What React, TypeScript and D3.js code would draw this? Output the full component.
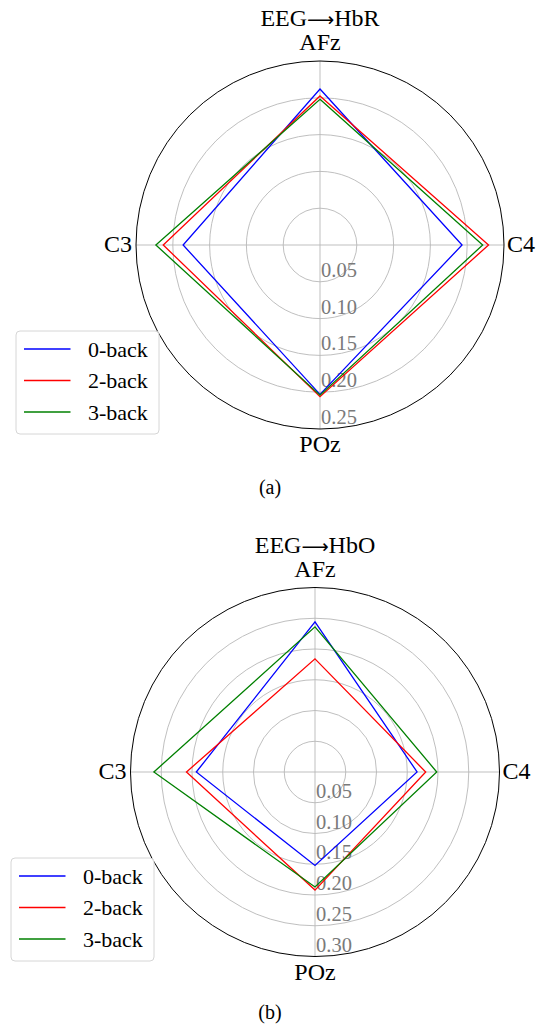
import React from 'react';
import { scaleLinear, lineRadial, curveLinearClosed } from 'd3';

// channel order goes clockwise from the top
const channels = ['AFz', 'C4', 'POz', 'C3'];
const seriesNames = ['0-back', '2-back', '3-back'];
const seriesColors = ['#0000ff', '#ff0000', '#008000'];

// EEG -> HbR
const hbrZeroBack = [0.212, 0.193, 0.203, 0.186];
const hbrTwoBack = [0.2025, 0.229, 0.206, 0.213];
const hbrThreeBack = [0.198, 0.221, 0.204, 0.223];
const hbrTicks = [0.05, 0.1, 0.15, 0.2, 0.25];

// EEG -> HbO
const hboZeroBack = [0.244, 0.166, 0.152, 0.193];
const hboTwoBack = [0.184, 0.18, 0.192, 0.209];
const hboThreeBack = [0.236, 0.198, 0.187, 0.262];
const hboTicks = [0.05, 0.1, 0.15, 0.2, 0.25, 0.3];

const font = '"Liberation Serif", "Times New Roman", serif';

type PanelProps = {
  cx: number;
  cy: number;
  radius: number;
  title: [string, string];
  caption: string;
  captionY: number;
  series: number[][];
  ticks: number[];
  legendX: number;
  legendY: number;
};

function RadarPanel({ cx, cy, radius, title, caption, captionY, series, ticks, legendX, legendY }: PanelProps) {
  const rMax = ticks[ticks.length - 1];
  const r = scaleLinear().domain([0, rMax]).range([0, radius]);
  const angle = (i: number) => (i / channels.length) * 2 * Math.PI;

  const path = lineRadial<number>()
    .angle((d, i) => angle(i))
    .radius(d => r(d))
    .curve(curveLinearClosed);

  return (
    <g>
      <g transform={`translate(${cx},${cy})`}>
        {/* grid rings */}
        {ticks.slice(0, -1).map(t => (
          <circle key={t} r={r(t)} fill="none" stroke="#b8b8b8" strokeWidth={0.9} />
        ))}
        {/* spokes */}
        {channels.map((c, i) => (
          <line
            key={c}
            x1={0}
            y1={0}
            x2={Math.sin(angle(i)) * radius}
            y2={-Math.cos(angle(i)) * radius}
            stroke="#b8b8b8"
            strokeWidth={0.9}
          />
        ))}
        {/* tick labels */}
        {ticks.map(t => (
          <text
            key={'t' + t}
            x={1}
            y={r(t) - 12}
            dominantBaseline="central"
            fontFamily={font}
            fontSize={20.5}
            fill="#7a7a7a"
          >
            {t.toFixed(2)}
          </text>
        ))}
        {/* data */}
        {series.map((s, k) => (
          <path key={k} d={path(s) || ''} fill="none" stroke={seriesColors[k]} strokeWidth={1.3} />
        ))}
        <circle r={radius} fill="none" stroke="#000" strokeWidth={1} />
        {/* channel labels */}
        <text x={0} y={-radius - 11} textAnchor="middle" fontFamily={font} fontSize={24}>{channels[0]}</text>
        <text x={radius + 3} y={7} textAnchor="start" fontFamily={font} fontSize={24}>{channels[1]}</text>
        <text x={0} y={radius + 23} textAnchor="middle" fontFamily={font} fontSize={24}>{channels[2]}</text>
        <text x={-radius - 4} y={7} textAnchor="end" fontFamily={font} fontSize={24}>{channels[3]}</text>
        <text x={0} y={-radius - 35} textAnchor="middle" fontFamily={font} fontSize={24}>
          {title[0]}
          <tspan fontFamily='"DejaVu Sans", sans-serif' fontSize={19}>⟶</tspan>
          {title[1]}
        </text>
      </g>
      {/* legend */}
      <g transform={`translate(${legendX},${legendY})`}>
        <rect x={0} y={0} width={143} height={103} rx={4} fill="#fff" fillOpacity={0.8} stroke="#d6d6d6" strokeWidth={1} />
        {seriesNames.map((n, k) => (
          <g key={n} transform={`translate(0,${18 + k * 31.5})`}>
            <line x1={8} x2={54.5} y1={0} y2={0} stroke={seriesColors[k]} strokeWidth={1.3} />
            <text x={72} y={0} dominantBaseline="central" fontFamily={font} fontSize={22}>{n}</text>
          </g>
        ))}
      </g>
      <text x={270} y={captionY} textAnchor="middle" fontFamily={font} fontSize={20}>{caption}</text>
    </g>
  );
}

export default function App() {
  return (
    <svg width={544} height={1028} style={{ position: 'absolute', left: 0, top: 0, background: '#fff' }}>
      <RadarPanel
        cx={320}
        cy={245}
        radius={184}
        title={['EEG', 'HbR']}
        caption="(a)"
        captionY={494}
        series={[hbrZeroBack, hbrTwoBack, hbrThreeBack]}
        ticks={hbrTicks}
        legendX={16}
        legendY={331}
      />
      <RadarPanel
        cx={315}
        cy={772}
        radius={184.5}
        title={['EEG', 'HbO']}
        caption="(b)"
        captionY={1019}
        series={[hboZeroBack, hboTwoBack, hboThreeBack]}
        ticks={hboTicks}
        legendX={11}
        legendY={858}
      />
    </svg>
  );
}
